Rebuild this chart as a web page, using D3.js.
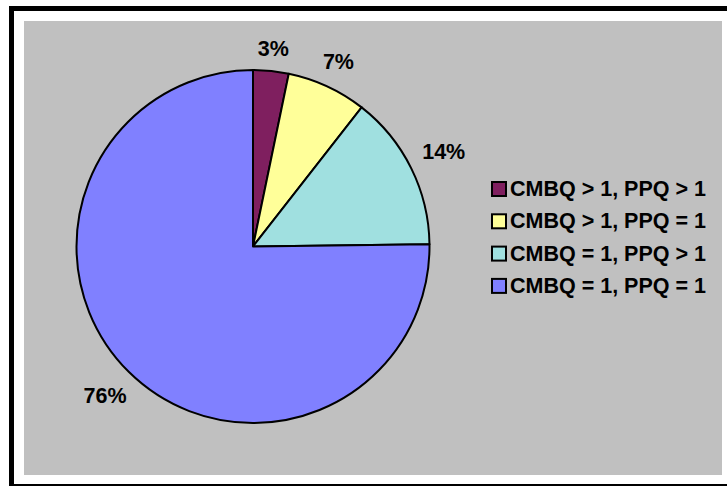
<!DOCTYPE html>
<html>
<head>
<meta charset="utf-8">
<script src="https://cdn.jsdelivr.net/npm/d3@7"></script>
<style>
  body { margin: 0; background: #fff; }
  svg { display: block; }
  text { font-family: "Liberation Sans", Arial, sans-serif; font-weight: bold; fill: #000; }
</style>
</head>
<body>
<div class="chart"></div>
<script>
(function drawPie() {
	"use strict";
	var width = 727;
	var height = 486;

	var categories = ["CMBQ > 1, PPQ > 1", "CMBQ > 1, PPQ = 1", "CMBQ = 1, PPQ > 1", "CMBQ = 1, PPQ = 1"];
	var values = [3.25, 7.3, 14.25, 75.2];
	var labels = ["3%", "7%", "14%", "76%"];
	var colors = ["#7f1f5f", "#ffff99", "#a0e0e0", "#8080ff"];

	var svg = d3.select(".chart")
				.append("svg")
				.attr("width", width)
				.attr("height", height);

	// outer frame
	svg.append("rect")
	   .attr("x", 11.5)
	   .attr("y", 8.5)
	   .attr("width", 730)
	   .attr("height", 478)
	   .attr("fill", "#fff")
	   .attr("stroke", "#000")
	   .attr("stroke-width", 5);

	// plot area
	svg.append("rect")
	   .attr("x", 24)
	   .attr("y", 21)
	   .attr("width", 698)
	   .attr("height", 454)
	   .attr("fill", "#c0c0c0");

	var cx = 253, cy = 246.5, r = 176.5;

	var pie = d3.pie().sort(null).value(function(d) { return d; });
	var arc = d3.arc().innerRadius(0).outerRadius(r);
	var slices = pie(values);

	var g = svg.append("g")
			   .attr("transform", "translate(" + cx + "," + cy + ")");

	g.selectAll("path")
	 .data(slices)
	 .enter()
	 .append("path")
	 .attr("d", arc)
	 .attr("fill", function(d, i) { return colors[i]; })
	 .attr("stroke", "#000")
	 .attr("stroke-width", 2)
	 .attr("stroke-linejoin", "round");

	// percentage labels outside the pie
	var fontSize = 21.5;
	function labelPos(d, el) {
		var a = (d.startAngle + d.endAngle) / 2;
		var hw = el.getComputedTextLength() / 2;
		var dist = r + 14 + hw * Math.abs(Math.sin(a)) + 7 * Math.abs(Math.cos(a));
		return [dist * Math.sin(a), -dist * Math.cos(a)];
	}

	g.selectAll(".pct")
	 .data(slices)
	 .enter()
	 .append("text")
	 .attr("class", "pct")
	 .attr("font-size", fontSize)
	 .attr("text-anchor", "middle")
	 .attr("dominant-baseline", "central")
	 .text(function(d, i) { return labels[i]; })
	 .attr("x", function(d) { return labelPos(d, this)[0]; })
	 .attr("y", function(d) { return labelPos(d, this)[1]; });

	// legend
	var legend = svg.append("g")
					.attr("transform", "translate(491, 189)");

	var rowH = 32.3;
	var rows = legend.selectAll("g")
					 .data(categories)
					 .enter()
					 .append("g")
					 .attr("transform", function(d, i) { return "translate(0," + (i * rowH) + ")"; });

	rows.append("rect")
		.attr("x", 1)
		.attr("y", -7)
		.attr("width", 14)
		.attr("height", 14)
		.attr("fill", function(d, i) { return colors[i]; })
		.attr("stroke", "#000")
		.attr("stroke-width", 2);

	rows.append("text")
		.attr("x", 19)
		.attr("y", 0)
		.attr("dominant-baseline", "central")
		.attr("font-size", fontSize)
		.text(function(d) { return d; });
}());
</script>
</body>
</html>
